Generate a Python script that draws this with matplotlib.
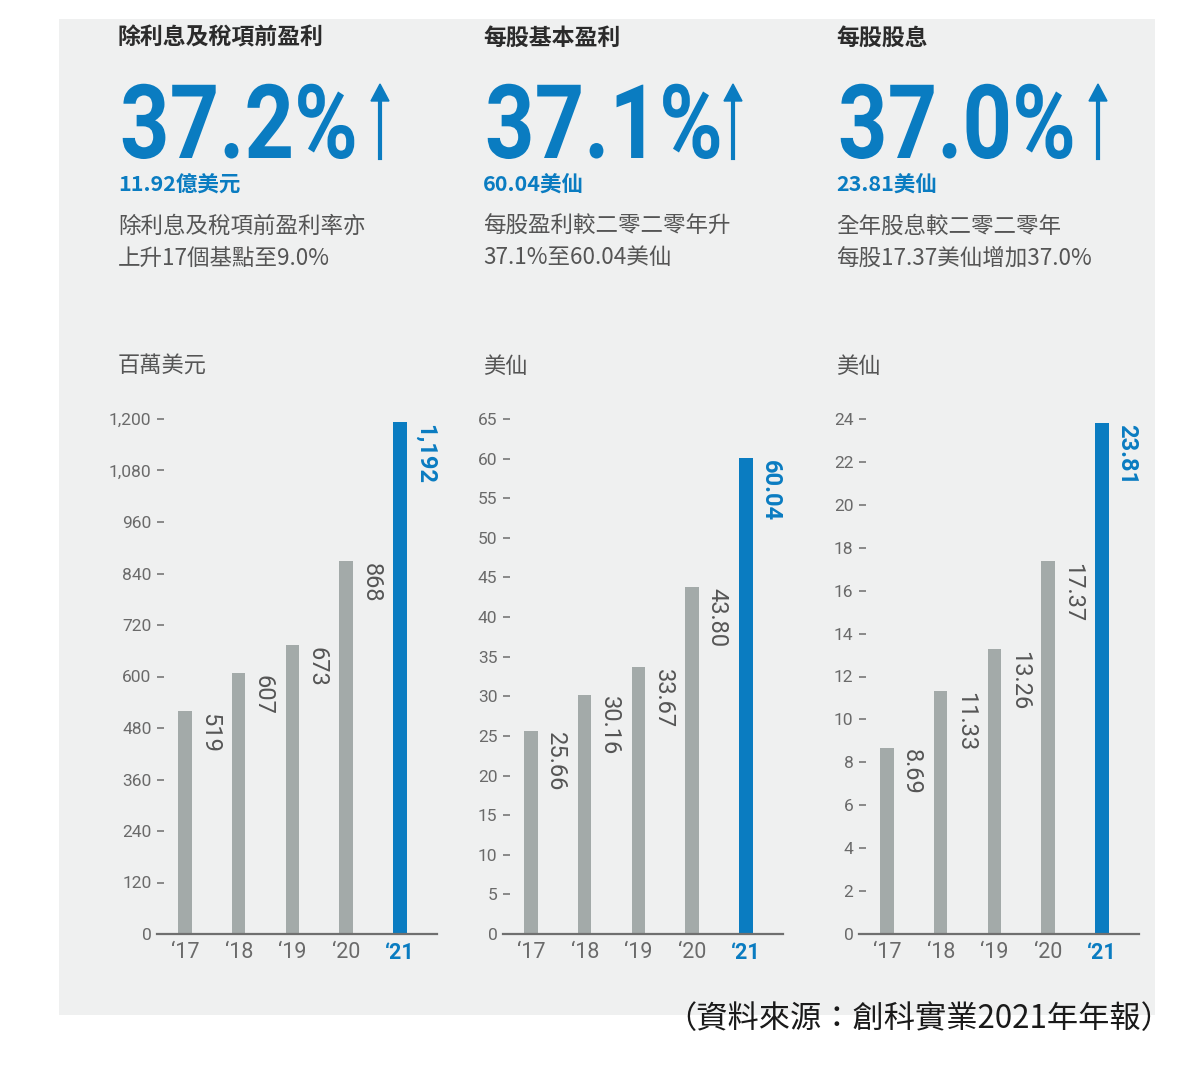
import numpy as np
import matplotlib.pyplot as plt
from matplotlib.patches import Rectangle, PathPatch
from matplotlib.textpath import TextPath
from matplotlib.font_manager import FontProperties
from matplotlib.transforms import Affine2D

years = ["‘17", "‘18", "‘19", "‘20", "‘21"]

ebit = [519, 607, 673, 868, 1192]
ebit_labels = ["519", "607", "673", "868", "1,192"]
eps = [25.66, 30.16, 33.67, 43.80, 60.04]
eps_labels = ["25.66", "30.16", "33.67", "43.80", "60.04"]
dps = [8.69, 11.33, 13.26, 17.37, 23.81]
dps_labels = ["8.69", "11.33", "13.26", "17.37", "23.81"]

titles = ["除利息及稅項前盈利", "每股基本盈利", "每股股息"]
growth = ["37.2%", "37.1%", "37.0%"]
amounts = ["11.92億美元", "60.04美仙", "23.81美仙"]
notes = [["除利息及稅項前盈利率亦", "上升17個基點至9.0%"],
         ["每股盈利較二零二零年升", "37.1%至60.04美仙"],
         ["全年股息較二零二零年", "每股17.37美仙增加37.0%"]]
units = ["百萬美元", "美仙", "美仙"]

BLUE = "#0a7cc1"
GREY_BAR = "#a3aaa9"
PANEL = "#eff0f0"
CJK = ["Noto Sans CJK TC", "DejaVu Sans"]

W, H = 1200, 1082
fig = plt.figure(figsize=(W / 100, H / 100), dpi=100)
fig.patch.set_facecolor("white")

# grey panel behind everything
fig.patches.append(Rectangle((59 / W, 1 - 1015 / H), (1155 - 59) / W, (1015 - 19) / H,
                             transform=fig.transFigure, facecolor=PANEL,
                             edgecolor="none", zorder=-5))


def px(x, y):
    return x / W, 1 - y / H


big_font = FontProperties(family="Roboto", weight="bold")
col_x = [118, 483, 836]
arrow_x = [380, 733, 1098]
for k in range(3):
    x0 = col_x[k]
    fig.text(*px(x0, 38), titles[k], family=CJK, fontsize=16.5, weight="bold",
             color="#2b2b2b", va="center")
    # big condensed percentage
    tp = TextPath((0, 0), growth[k], size=103, prop=big_font)
    tr = Affine2D().scale(0.84, 1.0).translate(x0 + 2, H - 158)
    fig.patches.append(PathPatch(tr.transform_path(tp), facecolor=BLUE,
                                 edgecolor="none", transform=None, zorder=2))
    fig.text(*px(x0, 185), amounts[k], family=CJK, fontsize=15.5, weight="bold",
             color=BLUE, va="center")
    fig.text(*px(x0, 226), notes[k][0], family=CJK, fontsize=16.2, color="#555555",
             va="center")
    fig.text(*px(x0, 258), notes[k][1], family=CJK, fontsize=16.2, color="#555555",
             va="center")
    fig.text(*px(x0, 366), units[k], family=CJK, fontsize=16, color="#555555",
             va="center")
    ax_x = arrow_x[k]
    fig.add_artist(plt.Line2D([ax_x / W] * 2, [1 - 158 / H, 1 - 95 / H],
                              color=BLUE, lw=3.0, transform=fig.transFigure))
    fig.add_artist(plt.Polygon([px(ax_x - 9, 101), px(ax_x + 9, 101), px(ax_x, 84)],
                               closed=True, color=BLUE, transform=fig.transFigure))

charts = [
    (157, ebit, ebit_labels, 1200, np.arange(0, 1201, 120),
     ["{:,}".format(v) for v in range(0, 1201, 120)]),
    (503, eps, eps_labels, 65, np.arange(0, 66, 5),
     [str(v) for v in range(0, 66, 5)]),
    (859, dps, dps_labels, 24, np.arange(0, 25, 2),
     [str(v) for v in range(0, 25, 2)]),
]

bottom = 1 - 934 / H
height = (934 - 419) / H
for left, vals, labs, top, ticks, ticklabs in charts:
    ax = fig.add_axes([left / W, bottom, 280 / W, height])
    ax.set_facecolor("none")
    x = np.arange(len(vals))
    colors = [GREY_BAR] * 4 + [BLUE]
    ax.bar(x, vals, width=0.25, color=colors, zorder=2)
    ax.set_xlim(-0.52, 4.69)
    ax.set_ylim(0, top)
    for s in ["top", "right", "left"]:
        ax.spines[s].set_visible(False)
    ax.spines["bottom"].set_color("#6f6f6f")
    ax.spines["bottom"].set_linewidth(1.6)
    ax.set_yticks(ticks, ticklabs)
    ax.tick_params(axis="y", direction="in", length=5, width=1.2, color="#777777",
                   labelsize=12.5, labelcolor="#6a6a6a", pad=4)
    ax.set_xticks(x, years)
    ax.tick_params(axis="x", length=0, labelsize=15.5, labelcolor="#6a6a6a", pad=6)
    for lbl in ax.get_yticklabels():
        lbl.set_family("Roboto")
    for i, lbl in enumerate(ax.get_xticklabels()):
        lbl.set_family("Roboto")
        if i == 4:
            lbl.set_color(BLUE)
            lbl.set_weight("bold")
    for i, (v, s) in enumerate(zip(vals, labs)):
        ax.annotate(s, xy=(i, v), xytext=(9.5, -1), textcoords="offset points",
                    rotation=270, ha="left", va="top", family="Roboto",
                    fontsize=17, color=BLUE if i == 4 else "#555555",
                    weight="bold" if i == 4 else "normal")

fig.text(*px(1172, 1019), "（資料來源：創科實業2021年年報）", family=CJK, fontsize=22.5,
         color="#1a1a1a", ha="right", va="center")

fig.savefig("out.png", dpi=100, facecolor="white")
